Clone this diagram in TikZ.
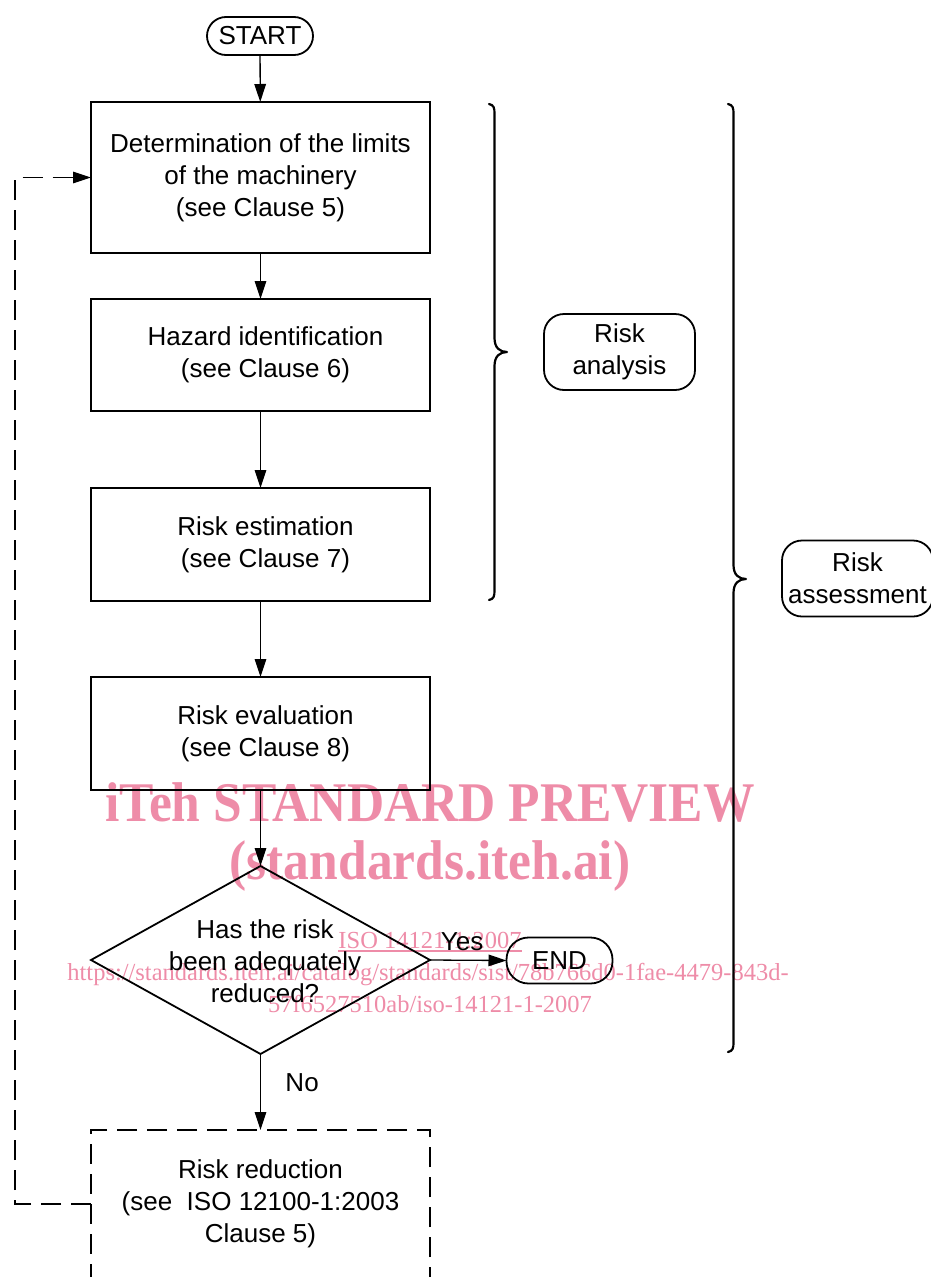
\documentclass[tikz,border=0pt]{standalone}
\usepackage{fontspec}
\setmainfont{Liberation Sans}
\newfontfamily\wmserif{Liberation Serif}
\usetikzlibrary{arrows.meta,shapes.geometric}
\definecolor{wmpink}{RGB}{238,140,168}

\begin{document}
\begin{tikzpicture}[x=1pt,y=-1pt,
  txt/.style={font=\fontsize{26}{32}\selectfont, align=center},
  stepbox/.style={draw, line width=1.8pt, minimum width=339pt, inner sep=0pt, outer sep=0pt, txt},
  termbox/.style={draw, line width=1.8pt, inner sep=0pt, outer sep=0pt, txt},
  groupbox/.style={draw, line width=1.8pt, rounded corners=20pt, minimum width=151pt, minimum height=76pt, inner sep=0pt, txt},
  flow/.style={line width=1.3pt, -{Triangle[length=18pt,width=11.5pt]}},
  loopback/.style={flow, dash pattern=on 20pt off 10pt},
  bracepath/.style={line width=2.2pt, line cap=round, line join=round},
  wmbig/.style={text=wmpink, inner sep=0pt, font=\wmserif\bfseries\fontsize{56}{56}\selectfont},
  wmsmall/.style={text=wmpink, inner sep=0pt, font=\wmserif\fontsize{24.5}{32}\selectfont},
]
\useasboundingbox (0,0) rectangle (931,1277);
\clip (0,0) rectangle (931,1277);

% preview stamp behind the chart
\node[wmbig, anchor=base] (wm1) at (430,821) {\scalebox{0.92}[1]{iTeh STANDARD PREVIEW}};
\node[wmbig, anchor=base] (wm2) at (430,879) {\scalebox{0.92}[1]{(standards.iteh.ai)}};
\node[wmsmall, anchor=base] (wm3) at (430,948) {ISO 14121-1:2007};
\draw[wmpink, line width=1.2pt] ([yshift=-3pt]wm3.base west) -- ([yshift=-3pt]wm3.base east);
\node[wmsmall, anchor=base] (wm4) at (428,980) {https://standards.iteh.ai/catalog/standards/sist/78b766d0-1fae-4479-843d-};
\node[wmsmall, anchor=base] (wm5) at (430,1012) {57f6527510ab/iso-14121-1-2007};

% terminals
\node[termbox, rounded corners=19pt, minimum width=106pt, minimum height=38pt] (start) at (260,36) {START};
\node[termbox, rounded corners=22pt, minimum width=106pt, minimum height=46pt] (end) at (559.5,960.5) {END};

% process steps
\node[stepbox, minimum height=151pt] (b1) at (260.5,177.5) {Determination of the limits\\of the machinery\\(see Clause 5)};
\node[stepbox, minimum height=112pt] (b2) at (260.5,355) {\hspace*{10pt}Hazard identification\\\hspace*{10pt}(see Clause 6)};
\node[stepbox, minimum height=113pt] (b3) at (260.5,544.5) {\hspace*{10pt}Risk estimation\\\hspace*{10pt}(see Clause 7)};
\node[stepbox, minimum height=113pt] (b4) at (260.5,733.5) {\hspace*{10pt}Risk evaluation\\\hspace*{10pt}(see Clause 8)};

% decision
\node[draw, line width=1.8pt, shape=diamond, minimum width=339pt, minimum height=188pt, inner sep=0pt, outer sep=0pt] (dec) at (260.5,960) {};
\node[txt, inner sep=0pt] (dectext) at (265,961) {Has the risk\\been adequately\\reduced?};

% risk reduction (dashed)
\node[stepbox, minimum height=148pt, dash pattern=on 20pt off 10pt] (rr) at (260.5,1204) {Risk reduction\\(see~ ISO 12100-1:2003\\Clause 5)};

% group labels
\node[groupbox] (ana) at (619.5,352) {Risk\\analysis};
\node[groupbox] (ass) at (857.5,578.5) {Risk\\assessment};

% connectors
\draw[flow] (start) -- (b1);
\draw[flow] (b1) -- (b2);
\draw[flow] (b2) -- (b3);
\draw[flow] (b3) -- (b4);
\draw[flow] (b4) -- (dec.north);
\draw[flow] (dec.east) -- node[txt, above=5pt, pos=0.42] (yes) {Yes} (end.west);
\draw[flow] (dec.south) -- node[txt, right=21pt, pos=0.38] (no) {No} (rr.north);
\draw[loopback] (rr.west) -- ++(-76,0) |- (b1.west);

% braces
\draw[bracepath] (489,104) .. controls (494,105) and (494.5,108) .. (494.5,114)
  -- (494.5,338) .. controls (494.5,348) and (500,352) .. (507,352)
  .. controls (500,352) and (494.5,356) .. (494.5,366)
  -- (494.5,590) .. controls (494.5,596) and (494,599) .. (489,600);
\draw[bracepath] (728,104) .. controls (733,105) and (733.5,108) .. (733.5,114)
  -- (733.5,565) .. controls (733.5,575) and (739,579) .. (746,579)
  .. controls (739,579) and (733.5,583) .. (733.5,593)
  -- (733.5,1042) .. controls (733.5,1048) and (733,1051) .. (728,1052);
\end{tikzpicture}
\end{document}
